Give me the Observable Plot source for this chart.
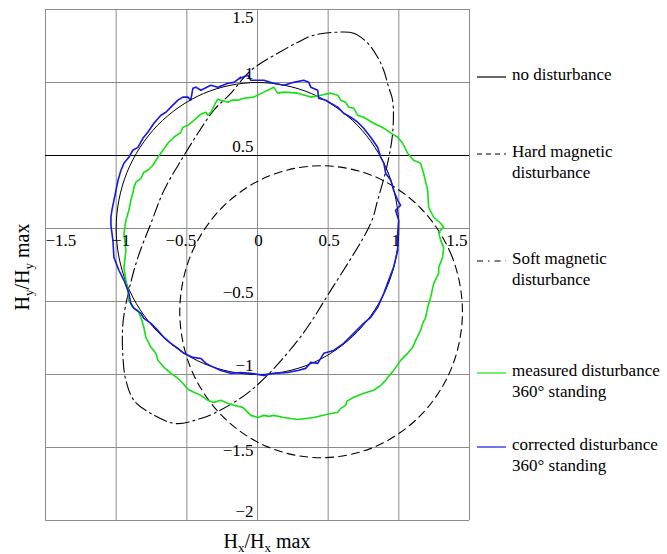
<!DOCTYPE html>
<html><head><meta charset="utf-8">
<script src="https://cdn.jsdelivr.net/npm/d3@7"></script>
<script src="https://cdn.jsdelivr.net/npm/@observablehq/plot@0.6"></script>
<style>body{margin:0;background:#fff} svg{display:block}</style>
</head><body><div id="chart"></div>
<script>
// ---- tick values & labels ----
const xTicks = [-1.5, -1, -0.5, 0, 0.5, 1, 1.5];
const xTickLabels = ["−1.5", "−1", "−0.5", "0", "0.5", "1", "1.5"];
const yTicks = [-2, -1.5, -1, -0.5, 0, 0.5, 1, 1.5];
const yLabelTicks = [1.5, 1, 0.5, -0.5, -1, -1.5, -2];
const yTickLabels = ["1.5", "1", "0.5", "−0.5", "−1", "−1.5", "−2"];

// ---- series (Hx/Hxmax, Hy/Hymax) ----
const noDisturbance = [[1,0],[0.924,0.383],[0.707,0.707],[0.383,0.924],[0,1],[-0.383,0.924],[-0.707,0.707],[-0.924,0.383],[-1,0],[-0.924,-0.383],[-0.707,-0.707],[-0.383,-0.924],[0,-1],[0.383,-0.924],[0.707,-0.707],[0.924,-0.383]];

const hardDisturbance = [[1.45,-0.57],[1.374,-0.187],[1.157,0.137],[0.833,0.354],[0.45,0.43],[0.067,0.354],[-0.257,0.137],[-0.474,-0.187],[-0.55,-0.57],[-0.474,-0.953],[-0.257,-1.277],[0.067,-1.494],[0.45,-1.57],[0.833,-1.494],[1.157,-1.277],[1.374,-0.953]];

const softDisturbance = [[0.553,1.344],[0.680,1.338],[0.780,1.269],[0.850,1.173],[0.893,1.084],[0.928,0.967],[0.956,0.878],[0.956,0.652],[0.914,0.419],[0.850,0.193],[0.801,0.035],[0.518,-0.424],[0.285,-0.767],[-0.047,-1.110],[-0.309,-1.267],[-0.401,-1.301],[-0.578,-1.336],[-0.754,-1.267],[-0.874,-1.178],[-0.931,-1.041],[-0.952,-0.883],[-0.952,-0.650],[-0.910,-0.424],[-0.846,-0.198],[-0.754,0.035],[-0.662,0.261],[-0.528,0.487],[-0.422,0.652],[-0.309,0.810],[-0.189,0.926],[-0.069,1.063],[0.023,1.132],[0.143,1.200],[0.285,1.276],[0.398,1.324]];

const measured = [[-0.026,0.900],[-0.097,0.892],[-0.139,0.879],[-0.181,0.879],[-0.209,0.865],[-0.259,0.879],[-0.281,0.886],[-0.302,0.851],[-0.330,0.796],[-0.351,0.776],[-0.366,0.796],[-0.401,0.783],[-0.450,0.741],[-0.493,0.707],[-0.528,0.693],[-0.542,0.659],[-0.592,0.625],[-0.634,0.584],[-0.669,0.536],[-0.705,0.488],[-0.740,0.433],[-0.776,0.399],[-0.804,0.385],[-0.825,0.344],[-0.860,0.317],[-0.874,0.282],[-0.882,0.241],[-0.896,0.193],[-0.910,0.125],[-0.931,0.056],[-0.945,-0.033],[-0.931,-0.149],[-0.945,-0.266],[-0.931,-0.355],[-0.917,-0.424],[-0.910,-0.492],[-0.882,-0.540],[-0.846,-0.561],[-0.825,-0.609],[-0.804,-0.677],[-0.790,-0.746],[-0.754,-0.814],[-0.719,-0.855],[-0.705,-0.903],[-0.662,-0.951],[-0.613,-0.992],[-0.563,-1.026],[-0.528,-1.060],[-0.493,-1.101],[-0.450,-1.122],[-0.401,-1.143],[-0.351,-1.177],[-0.309,-1.191],[-0.259,-1.177],[-0.209,-1.198],[-0.167,-1.211],[-0.104,-1.225],[-0.047,-1.280],[0.002,-1.294],[0.045,-1.280],[0.080,-1.287],[0.115,-1.280],[0.186,-1.294],[0.285,-1.308],[0.398,-1.294],[0.518,-1.267],[0.567,-1.260],[0.589,-1.232],[0.624,-1.211],[0.631,-1.184],[0.681,-1.156],[0.751,-1.129],[0.822,-1.108],[0.872,-1.074],[0.907,-1.040],[0.921,-1.020],[0.963,-0.972],[1.013,-0.903],[1.062,-0.855],[1.098,-0.814],[1.119,-0.766],[1.154,-0.698],[1.169,-0.650],[1.190,-0.609],[1.204,-0.540],[1.225,-0.472],[1.247,-0.376],[1.282,-0.307],[1.282,-0.266],[1.310,-0.197],[1.317,-0.129],[1.296,-0.081],[1.282,-0.026],[1.317,0.008],[1.296,0.036],[1.247,0.077],[1.211,0.145],[1.204,0.262],[1.175,0.378],[1.154,0.447],[1.105,0.468],[1.062,0.515],[1.027,0.584],[0.992,0.625],[0.943,0.653],[0.894,0.687],[0.822,0.721],[0.751,0.762],[0.709,0.776],[0.681,0.824],[0.645,0.831],[0.624,0.865],[0.589,0.879],[0.567,0.913],[0.518,0.927],[0.447,0.913],[0.377,0.900],[0.285,0.927],[0.186,0.934],[0.143,0.927],[0.115,0.968],[0.045,0.934]];

const corrected = [[-0.118,1.036],[-0.167,1.001],[-0.209,0.995],[-0.281,0.968],[-0.330,0.981],[-0.401,0.947],[-0.436,0.968],[-0.457,0.961],[-0.472,0.879],[-0.493,0.900],[-0.528,0.900],[-0.563,0.879],[-0.613,0.831],[-0.648,0.796],[-0.683,0.776],[-0.733,0.721],[-0.776,0.659],[-0.811,0.618],[-0.846,0.556],[-0.882,0.536],[-0.910,0.488],[-0.945,0.447],[-0.966,0.399],[-0.987,0.330],[-1.001,0.262],[-1.016,0.193],[-1.030,0.125],[-1.037,0.077],[-1.037,0.022],[-1.023,-0.081],[-1.016,-0.197],[-0.981,-0.286],[-0.945,-0.355],[-0.910,-0.444],[-0.896,-0.513],[-0.874,-0.547],[-0.825,-0.581],[-0.804,-0.616],[-0.754,-0.650],[-0.705,-0.698],[-0.662,-0.746],[-0.613,-0.787],[-0.563,-0.821],[-0.521,-0.855],[-0.457,-0.883],[-0.401,-0.890],[-0.365,-0.924],[-0.309,-0.951],[-0.259,-0.972],[-0.189,-0.992],[-0.118,-0.986],[-0.047,-0.992],[0.045,-1.006],[0.115,-0.992],[0.214,-0.986],[0.285,-0.972],[0.341,-0.958],[0.377,-0.917],[0.426,-0.924],[0.469,-0.855],[0.539,-0.835],[0.610,-0.787],[0.681,-0.718],[0.751,-0.650],[0.801,-0.609],[0.850,-0.540],[0.894,-0.444],[0.928,-0.355],[0.963,-0.266],[0.992,-0.149],[0.992,-0.033],[0.999,0.056],[0.977,0.125],[1.013,0.159],[0.992,0.193],[0.963,0.262],[0.943,0.330],[0.907,0.378],[0.894,0.447],[0.872,0.488],[0.850,0.556],[0.801,0.625],[0.751,0.687],[0.709,0.728],[0.659,0.762],[0.610,0.789],[0.567,0.831],[0.518,0.858],[0.483,0.879],[0.433,0.892],[0.426,0.947],[0.377,0.968],[0.363,1.001],[0.327,1.015],[0.257,1.001],[0.186,0.981],[0.115,0.995],[0.045,1.015],[0.002,1.015],[-0.047,1.015],[-0.069,1.050],[-0.139,1.022]];

// ---- legend ----
const legendNames = [["no disturbance"], ["Hard magnetic", "disturbance"], ["Soft magnetic", "disturbance"], ["measured disturbance", "360° standing"], ["corrected disturbance", "360° standing"]];

const FONT = "Liberation Serif, Times New Roman, serif";
const GREEN = "#14e014", BLUE = "#1818e0", GRID = "#8c8c8c";
const HARD_DASH = "8,5", SOFT_DASH = "13,4,2,4";
const px = d => d[0], py = d => d[1];
const xLab = xTicks.map((v, i) => ({v, t: xTickLabels[i]}));
const yLab = yLabelTicks.map((v, i) => ({v, t: yTickLabels[i]}));
const tx = (filter, anchor, dx) => Plot.text(xLab.filter(filter),
  {x: "v", y: () => 0, text: "t", textAnchor: anchor, dx, dy: 12, fontSize: 17, fontFamily: FONT, fill: "#000"});
const ty = (filter, dy) => Plot.text(yLab.filter(filter),
  {x: () => 0, y: "v", text: "t", textAnchor: "end", dx: -4, dy, fontSize: 17, fontFamily: FONT, fill: "#000"});

const plot = Plot.plot({
  width: 667, height: 554,
  marginLeft: 45, marginRight: 198, marginTop: 9, marginBottom: 34,
  x: {domain: [-1.5, 1.5], axis: null},
  y: {domain: [-2, 1.5], axis: null},
  style: {fontFamily: FONT, fontSize: "17px", background: "#fff", color: "#000"},
  marks: [
    Plot.ruleX(xTicks, {stroke: GRID, strokeWidth: 1}),
    Plot.ruleY(yTicks.filter(v => v !== 0.5), {stroke: GRID, strokeWidth: 1}),
    Plot.ruleY([0.5], {stroke: "#000", strokeWidth: 1.2}),
    Plot.line(noDisturbance, {x: px, y: py, curve: "catmull-rom-closed", stroke: "#000", strokeWidth: 1}),
    Plot.line(hardDisturbance, {x: px, y: py, curve: "catmull-rom-closed", stroke: "#000", strokeWidth: 1.1, strokeDasharray: HARD_DASH}),
    Plot.line(softDisturbance, {x: px, y: py, curve: "catmull-rom-closed", stroke: "#000", strokeWidth: 1.1, strokeDasharray: SOFT_DASH}),
    Plot.line(measured, {x: px, y: py, curve: "linear-closed", stroke: GREEN, strokeWidth: 1.6}),
    Plot.line(corrected, {x: px, y: py, curve: "linear-closed", stroke: BLUE, strokeWidth: 1.6}),
    // x tick labels along the y=0 line
    tx(d => d.v === -1.5, "start", 0),
    tx(d => d.v === -1, "middle", 5),
    tx(d => d.v === -0.5, "middle", -6),
    tx(d => d.v === 0 || d.v === 0.5, "middle", 1),
    tx(d => d.v === 1, "middle", -3),
    tx(d => d.v === 1.5, "end", -2),
    // y tick labels along the x=0 line
    ty(d => d.v === 1.5, 8),
    ty(d => d.v === -1.5, 3),
    ty(d => d.v !== 1.5 && d.v !== -1.5, -9)
  ]
});

const svg = d3.select(plot);

// legend
const legendStyles = [
  {stroke: "#000", dash: null},
  {stroke: "#000", dash: "5,4"},
  {stroke: "#000", dash: "6,5,1.5,5"},
  {stroke: GREEN, dash: null},
  {stroke: BLUE, dash: null}
];
const legendY = [77, 154, 261, 373, 447];
const lg = svg.append("g").style("font-family", FONT).style("font-size", "17px").attr("fill", "#000");
legendNames.forEach((lines, i) => {
  const y = legendY[i];
  const st = legendStyles[i];
  const ln = lg.append("line").attr("x1", 477).attr("x2", 506).attr("y1", y).attr("y2", y)
    .attr("stroke", st.stroke).attr("stroke-width", 1.2);
  if (st.dash) ln.attr("stroke-dasharray", st.dash);
  lines.forEach((t, j) => {
    lg.append("text").attr("x", 512).attr("y", y + 3 + j * 21)
      .style("text-anchor", "start").style("font-family", FONT).text(t);
  });
});

// axis titles with subscripts
function title(sel, sub) {
  sel.style("font-family", FONT).style("font-size", "20px").style("text-anchor", "middle").attr("fill", "#000");
  sel.append("tspan").text("H");
  sel.append("tspan").style("font-size", "13px").attr("dy", 4).text(sub);
  sel.append("tspan").attr("dy", -4).text("/H");
  sel.append("tspan").style("font-size", "13px").attr("dy", 4).text(sub);
  sel.append("tspan").attr("dy", -4).text(" max");
}
title(svg.append("text").attr("x", 267).attr("y", 548), "x");
title(svg.append("text").attr("transform", "translate(29,267) rotate(-90)"), "y");

document.getElementById("chart").appendChild(plot);
</script>
</body></html>
